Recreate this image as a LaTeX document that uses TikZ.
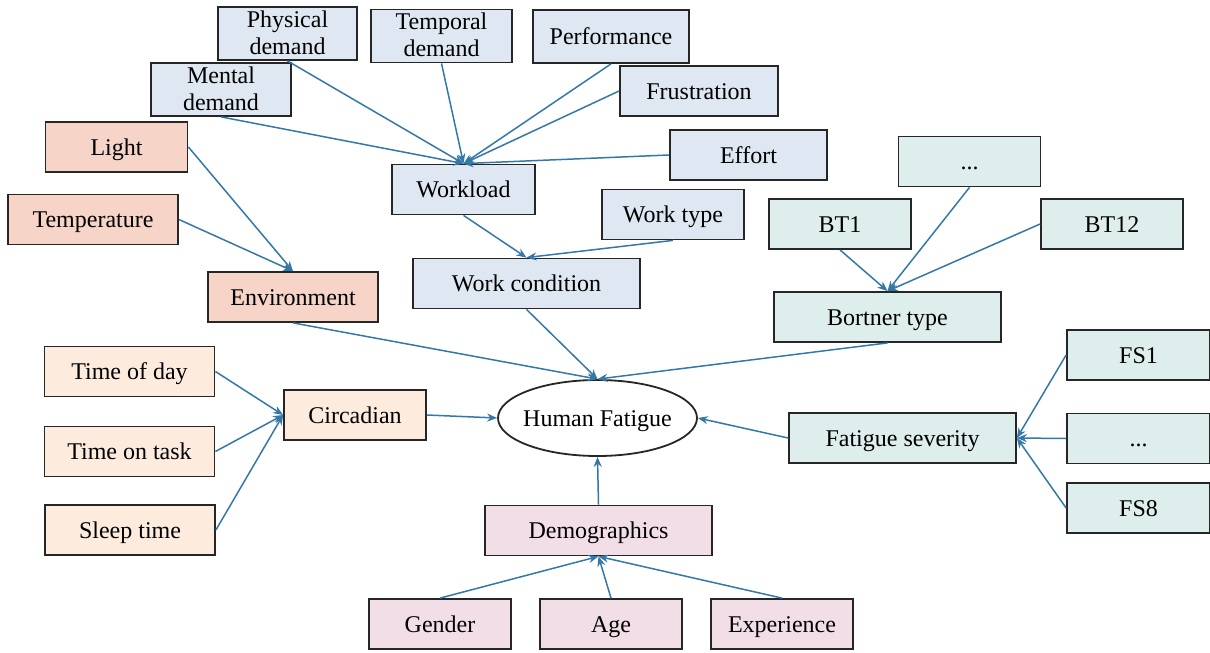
\documentclass[tikz,border=0pt]{standalone}
\usepackage{fontspec}
\setmainfont{Liberation Serif}
\usetikzlibrary{arrows.meta,shapes.geometric}

\definecolor{wlblue}{RGB}{222,231,242}
\definecolor{envred}{RGB}{246,212,199}
\definecolor{circpeach}{RGB}{253,236,222}
\definecolor{btteal}{RGB}{221,238,236}
\definecolor{demopink}{RGB}{242,222,230}
\definecolor{linkblue}{RGB}{52,120,168}

\begin{document}
\begin{tikzpicture}[x=0.5pt,y=-0.5pt,
    box/.style={draw=black!85, line width=0.9pt, minimum width=71pt, minimum height=25pt,
        inner sep=1pt, align=center, text height=9.5pt, text depth=1.5pt,
        font=\fontsize{12}{13.5}\selectfont},
    twoline/.style={text height=22.7pt, text depth=1.8pt},
    wide/.style={minimum width=85pt},
    wider/.style={minimum width=113.5pt},
    wl/.style={box, fill=wlblue},
    env/.style={box, fill=envred},
    circ/.style={box, fill=circpeach},
    bort/.style={box, fill=btteal},
    demo/.style={box, fill=demopink},
    link/.style={draw=linkblue, line width=0.75pt, -{Stealth[length=5pt,width=4pt]}}]

    \useasboundingbox (0,0) rectangle (1210,653);

    % workload
    \node[wl, twoline, minimum width=69.5pt, minimum height=26.5pt] (physical) at (287.5,33.5) {Physical\\demand};
    \node[wl, twoline, minimum width=70.5pt, minimum height=26pt] (temporal) at (441.5,36) {Temporal\\demand};
    \node[wl, minimum width=78pt, minimum height=26.5pt] (performance) at (611,36.5) {Performance};
    \node[wl, twoline, minimum width=70pt, minimum height=25.5pt] (mental) at (221,89.5) {Mental\\demand};
    \node[wl, minimum width=79pt] (frustration) at (699,91) {Frustration};
    \node[wl, minimum width=78.5pt] (effort) at (748.5,155) {Effort};
    \node[wl, minimum width=71.5pt] (workload) at (463.5,189.5) {Workload};
    \node[wl] (worktype) at (673,214.5) {Work type};
    \node[wl, wider] (workcond) at (526.5,283.5) {Work condition};

    % environment
    \node[env] (light) at (116.5,147) {Light};
    \node[env, wide] (temperature) at (93,219.5) {Temperature};
    \node[env, wide] (environment) at (293,297) {Environment};

    % circadian
    \node[circ, wide] (timeofday) at (129.5,371.5) {Time of day};
    \node[circ, wide] (timeontask) at (129.5,451.5) {Time on task};
    \node[circ, wide] (sleeptime) at (130,530) {Sleep time};
    \node[circ] (circadian) at (355,415) {Circadian};

    % bortner type and fatigue severity
    \node[bort] (btdots) at (969.5,161.5) {...};
    \node[bort] (bt1) at (840,224) {BT1};
    \node[bort] (bt12) at (1112,224) {BT12};
    \node[bort, wider] (bortner) at (887.5,317) {Bortner type};
    \node[bort, minimum width=71.5pt] (fs1) at (1138.5,355) {FS1};
    \node[bort, minimum width=71.5pt] (fsdots) at (1138.5,438.5) {...};
    \node[bort, minimum width=71.5pt] (fs8) at (1138.5,508) {FS8};
    \node[bort, wider] (fsev) at (902.5,438) {Fatigue severity};

    % demographics
    \node[demo, wider] (demographics) at (598.5,530.5) {Demographics};
    \node[demo] (gender) at (440,624) {Gender};
    \node[demo] (age) at (611,624) {Age};
    \node[demo] (experience) at (782,624) {Experience};

    \node[ellipse, draw=black!85, line width=0.9pt, fill=white, minimum width=99.5pt, minimum height=38pt,
        inner xsep=-2.2pt, inner ysep=0pt, text height=9.5pt, text depth=1.5pt,
        font=\fontsize{12}{13.5}\selectfont] (fatigue) at (597.5,418) {Human Fatigue};

    \draw[link] (mental.south) -- (workload.north);
    \draw[link] (physical.south) -- (workload.north);
    \draw[link] (temporal.south) -- (workload.north);
    \draw[link] (performance.south) -- (workload.north);
    \draw[link] (frustration.west) -- (workload.north);
    \draw[link] (effort.west) -- (workload.north);
    \draw[link] (workload.south) -- (workcond.north);
    \draw[link] (worktype.south) -- (workcond.north);

    \draw[link] (light.east) -- (environment.north);
    \draw[link] (temperature.east) -- (environment.north);

    \draw[link] (bt1.south) -- (bortner.north);
    \draw[link] (btdots.south) -- (bortner.north);
    \draw[link] (bt12.west) -- (bortner.north);

    \draw[link] (timeofday.east) -- (circadian.west);
    \draw[link] (timeontask.east) -- (circadian.west);
    \draw[link] (sleeptime.east) -- (circadian.west);

    \draw[link] (fs1.west) -- (fsev.east);
    \draw[link] (fsdots.west) -- (fsev.east);
    \draw[link] (fs8.west) -- (fsev.east);

    \draw[link] (gender.north) -- (demographics.south);
    \draw[link] (age.north) -- (demographics.south);
    \draw[link] (experience.north) -- (demographics.south);

    \draw[link] (environment.south) -- (fatigue.north);
    \draw[link] (workcond.south) -- (fatigue.north);
    \draw[link] (bortner.south) -- (fatigue.north);
    \draw[link] (circadian.east) -- (fatigue.west);
    \draw[link] (fsev.west) -- (fatigue.east);
    \draw[link] (demographics.north) -- (fatigue.south);

\end{tikzpicture}
\end{document}
